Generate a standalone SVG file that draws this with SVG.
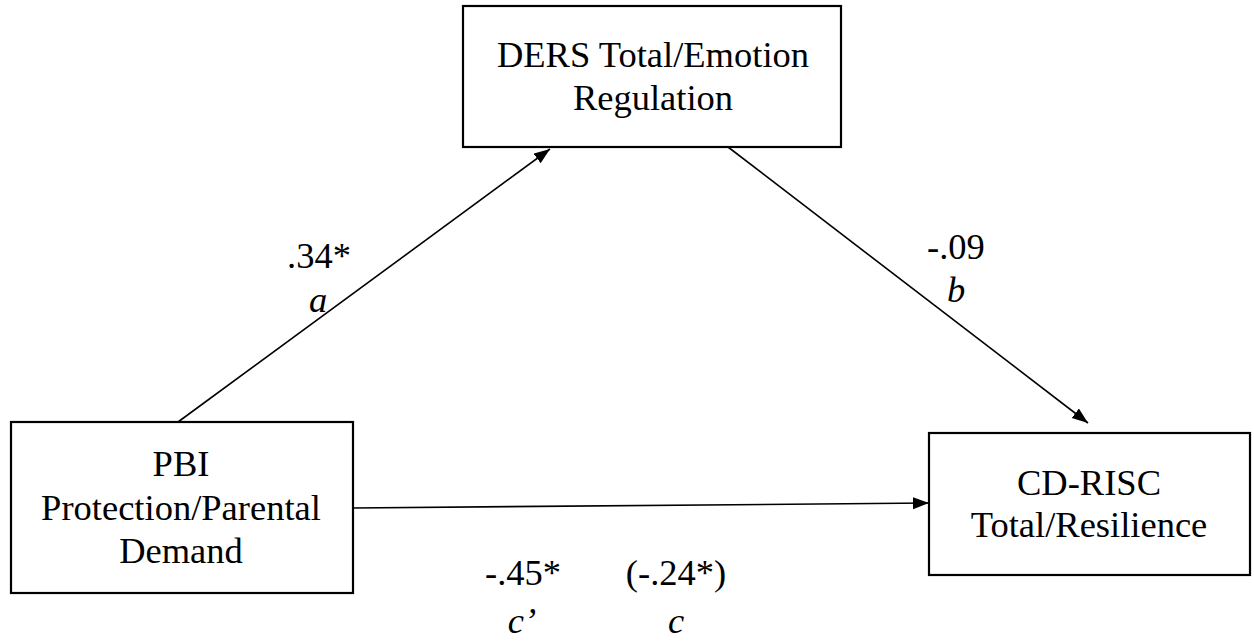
<svg xmlns="http://www.w3.org/2000/svg" width="1254" height="642" viewBox="0 0 1254 642">
  <style>
    .box { fill: #ffffff; stroke: #000000; stroke-width: 2.2; }
    .lbl { font-family: 'Liberation Serif', 'Times New Roman', Times, Tinos, 'DejaVu Serif', serif; font-size: 36.5px; fill: #000000; }
    .mid { text-anchor: middle; }
    .it { font-style: italic; }
    .edge { stroke: #000000; stroke-width: 1.6; fill: none; }
  </style>
  <defs>
    <marker id="arrow" markerUnits="userSpaceOnUse" markerWidth="17" markerHeight="13" refX="16" refY="6" orient="auto">
      <path d="M0,0 L16,6 L0,12 z" fill="#000000"/>
    </marker>
  </defs>
  <rect width="1254" height="642" fill="#ffffff"/>

  <g id="connectors">
    <line class="edge" x1="178" y1="422" x2="550" y2="149" marker-end="url(#arrow)"/>
    <line class="edge" x1="728" y1="147" x2="1088" y2="423" marker-end="url(#arrow)"/>
    <line class="edge" x1="353" y1="508" x2="929" y2="503" marker-end="url(#arrow)"/>
  </g>

  <g id="node-ders">
    <rect class="box" x="463" y="6" width="378" height="141"/>
    <text class="lbl mid" x="653" y="67">DERS Total/Emotion</text>
    <text class="lbl mid" x="653" y="110">Regulation</text>
  </g>

  <g id="node-pbi">
    <rect class="box" x="11" y="422" width="342" height="171"/>
    <text class="lbl mid" x="181" y="476">PBI</text>
    <text class="lbl mid" x="181" y="520">Protection/Parental</text>
    <text class="lbl mid" x="181" y="563">Demand</text>
  </g>

  <g id="node-cdrisc">
    <rect class="box" x="929" y="433" width="321" height="142"/>
    <text class="lbl mid" x="1089" y="495">CD-RISC</text>
    <text class="lbl mid" x="1089" y="537">Total/Resilience</text>
  </g>

  <g id="edge-labels">
    <text class="lbl mid" x="319" y="268">.34*</text>
    <text class="lbl mid it" x="318" y="312">a</text>
    <text class="lbl" x="927" y="259">-.09</text>
    <text class="lbl it" x="947" y="302">b</text>
    <text class="lbl mid" x="523" y="585">-.45*</text>
    <text class="lbl mid it" x="522" y="633">c’</text>
    <text class="lbl mid" x="676" y="585">(-.24*)</text>
    <text class="lbl mid it" x="676" y="633">c</text>
  </g>
</svg>
